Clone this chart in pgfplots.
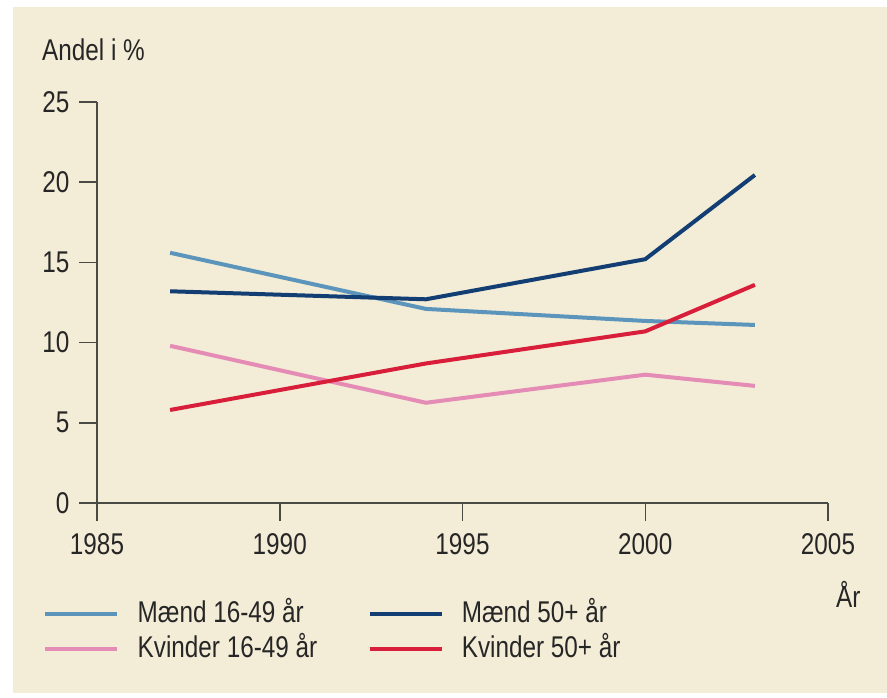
\documentclass[border=0pt]{standalone}
\usepackage{fontspec}
\setmainfont{Liberation Sans}[FakeStretch=0.81]
\usepackage{pgfplots}
\pgfplotsset{compat=1.18}
\definecolor{bg}{HTML}{F3ECD6}
\definecolor{lblue}{HTML}{5C95BC}
\definecolor{dblue}{HTML}{123E73}
\definecolor{pinkc}{HTML}{E58CB6}
\definecolor{redc}{HTML}{D81E3A}
\definecolor{axc}{HTML}{4A4A44}
\begin{document}
\begin{tikzpicture}
\fill[white] (0pt,0pt) rectangle (887pt,697pt);
\fill[bg] (13pt,4pt) rectangle (887pt,690pt);
\begin{axis}[
  at={(97pt,194pt)}, anchor=south west,
  scale only axis, width=731pt, height=401pt,
  xmin=1985, xmax=2005, ymin=0, ymax=25,
  axis lines=left,
  axis line style={-, draw=axc, line width=1.5pt},
  every tick/.style={draw=axc, line width=1.5pt},
  tick align=outside,
  major tick length=18pt,
  xtick={1985,1990,1995,2000,2005},
  ytick={0,5,10,15,20,25},
  /pgf/number format/1000 sep={},
  /pgf/number format/assume math mode=true,
  tick label style={font=\fontsize{30}{36}\selectfont, text=black!85},
  xticklabel style={yshift=-9pt},
  yticklabel style={xshift=-6pt},
  xlabel={År},
  ylabel={Andel i \%},
  every axis x label/.style={at={(axis description cs:1,0)}, anchor=north west, xshift=8pt, yshift=-78pt, inner sep=0pt, font=\fontsize{30}{36}\selectfont, text=black!85},
  every axis y label/.style={at={(axis description cs:0,1)}, anchor=base west, xshift=-55pt, yshift=42pt, inner sep=0pt, font=\fontsize{30}{36}\selectfont, text=black!85},
  legend columns=2,
  legend image code/.code={\draw[#1, line width=4.5pt] (0pt,0pt) -- (72pt,0pt);},
  legend style={at={(axis description cs:-0.0739,-0.2415)}, anchor=north west, draw=none, fill=none, inner sep=0pt,
    font=\fontsize{30}{36}\selectfont, text=black!85,
    nodes={inner sep=0pt, anchor=west, text height=22pt, text depth=6pt}, row sep=7pt,
    /tikz/every odd column/.append style={column sep=18pt},
    /tikz/every even column/.append style={column sep=50pt}},
]
\addplot[lblue, line width=4pt] coordinates {(1987,15.6) (1994,12.1) (2000,11.35) (2003,11.1)};
\addlegendentry{Mænd 16-49 år}
\addplot[dblue, line width=4pt] coordinates {(1987,13.2) (1994,12.7) (2000,15.2) (2003,20.45)};
\addlegendentry{Mænd 50+ år}
\addplot[pinkc, line width=4pt] coordinates {(1987,9.8) (1994,6.25) (2000,8.0) (2003,7.3)};
\addlegendentry{Kvinder 16-49 år}
\addplot[redc, line width=4pt] coordinates {(1987,5.8) (1994,8.7) (2000,10.7) (2003,13.6)};
\addlegendentry{Kvinder 50+ år}
\end{axis}
\end{tikzpicture}
\end{document}
